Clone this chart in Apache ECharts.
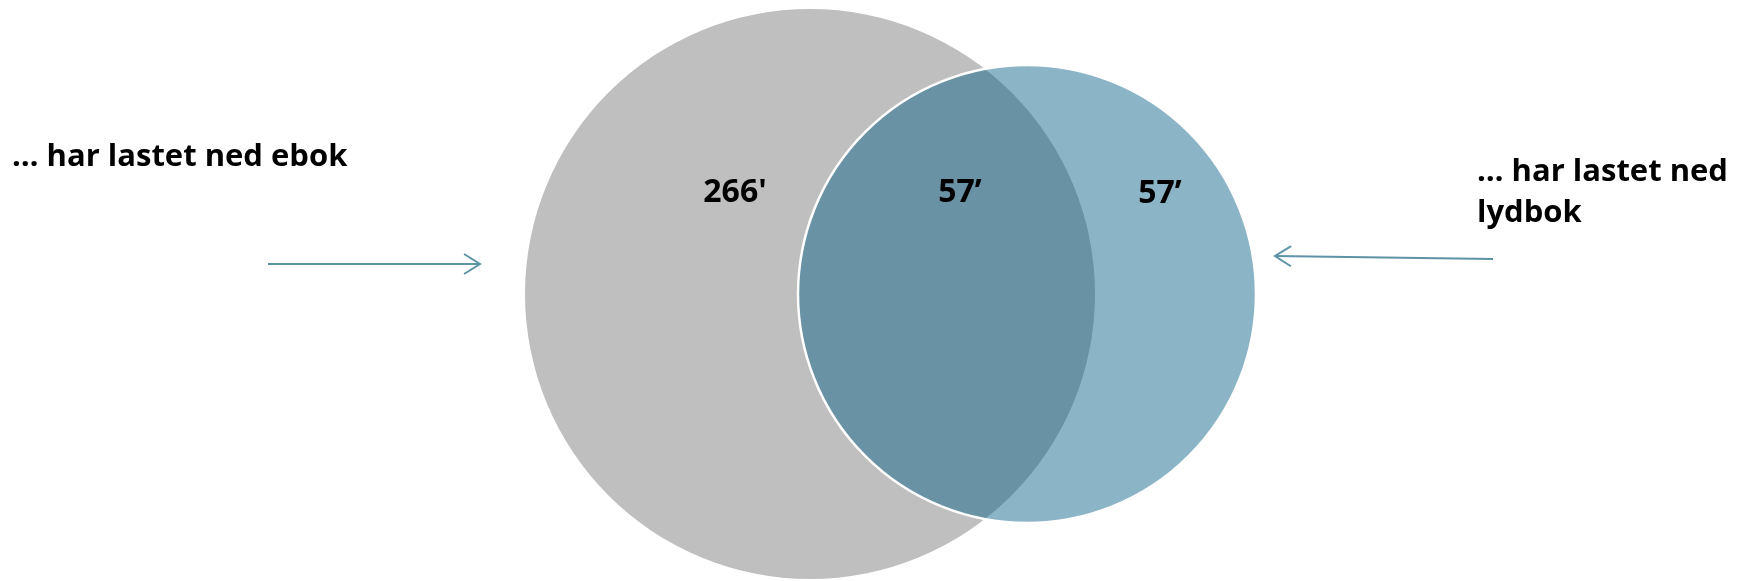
<!DOCTYPE html>
<html>
<head>
<meta charset="utf-8">
<script src="https://cdn.jsdelivr.net/npm/echarts@6/dist/echarts.min.js"></script>
<style>html,body{margin:0;padding:0;background:#fff}#c{width:1742px;height:581px}</style>
</head>
<body>
<div id="c"></div>
<script>
// ---- data ----
const setNames = ['… har lastet ned ebok', '… har lastet ned\nlydbok'];
const regionLabels = ["266'", '57’', '57’'];
const regionValues = [266, 57, 57];

// ---- layout (pixel space of the 1742x581 canvas) ----
const circleLayout = [
  { cx: 810, cy: 294, r: 285, fill: '#BFBFBF', stroke: null },
  { cx: 1027, cy: 294, r: 229, fill: 'rgba(10,96,136,0.47)', stroke: '#FFFFFF' }
];
const regionLabelPos = [[735, 193], [960, 193], [1160, 194]];
const setLabelPos = [[12, 157], [1477, 193]];
const arrowLayout = [
  { from: [268, 264], to: [480, 264] },
  { from: [1493, 259], to: [1275, 256] }
];
const FONT = '"Open Sans"';
const arrowColor = '#5E92A6';

const chart = echarts.init(document.getElementById('c'));

function circleItem(params, api) {
  const c = circleLayout[params.dataIndex];
  const p = api.coord([c.cx, c.cy]);
  const s = api.size([1, 1]);
  return {
    type: 'circle',
    shape: { cx: p[0], cy: p[1], r: c.r * s[0] },
    style: { fill: c.fill, stroke: c.stroke || 'none', lineWidth: c.stroke ? 2.5 : 0 }
  };
}
function arrowItem(params, api) {
  const a = arrowLayout[params.dataIndex];
  const f = api.coord(a.from), t = api.coord(a.to);
  const dx = t[0] - f[0], dy = t[1] - f[1];
  const L = Math.sqrt(dx * dx + dy * dy), ux = dx / L, uy = dy / L;
  const hl = 16, hw = 10;
  const b = [t[0] - ux * hl, t[1] - uy * hl];
  return {
    type: 'group',
    children: [
      { type: 'line', shape: { x1: f[0], y1: f[1], x2: t[0], y2: t[1] },
        style: { stroke: arrowColor, lineWidth: 2 } },
      { type: 'polyline', shape: { points: [[b[0] - uy * hw, b[1] + ux * hw], t, [b[0] + uy * hw, b[1] - ux * hw]] },
        style: { stroke: arrowColor, lineWidth: 2, fill: 'none' } }
    ]
  };
}

const textStyle = { fontFamily: FONT, fontWeight: 'bold', fontSize: 31, color: '#000', opacity: 1 };

chart.setOption({
  animation: false,
  grid: { left: 0, right: 0, top: 0, bottom: 0 },
  xAxis: { type: 'value', min: 0, max: 1742, show: false },
  yAxis: { type: 'value', min: 0, max: 581, inverse: true, show: false },
  series: [
    {
      type: 'custom', name: 'circles', renderItem: circleItem,
      data: circleLayout.map((c, i) => [c.cx, c.cy, i]), silent: true
    },
    {
      type: 'custom', name: 'arrows', renderItem: arrowItem,
      data: arrowLayout.map((a, i) => [a.to[0], a.to[1], i]), silent: true
    },
    {
      type: 'scatter', name: 'regions', symbolSize: 0, itemStyle: { opacity: 1 },
      data: regionValues.map((v, i) => ({ value: regionLabelPos[i], name: regionLabels[i] })),
      label: Object.assign({ show: true, position: 'inside', formatter: p => p.name }, textStyle, { fontSize: 32 }),
      silent: true
    },
    {
      type: 'scatter', name: 'sets', symbolSize: 0, itemStyle: { opacity: 1 },
      data: setNames.map((n, i) => ({ value: setLabelPos[i], name: n })),
      label: Object.assign({ show: true, position: 'right', distance: 0, formatter: p => p.name,
        lineHeight: 41, align: 'left' }, textStyle),
      silent: true
    }
  ]
});
</script>
</body>
</html>
